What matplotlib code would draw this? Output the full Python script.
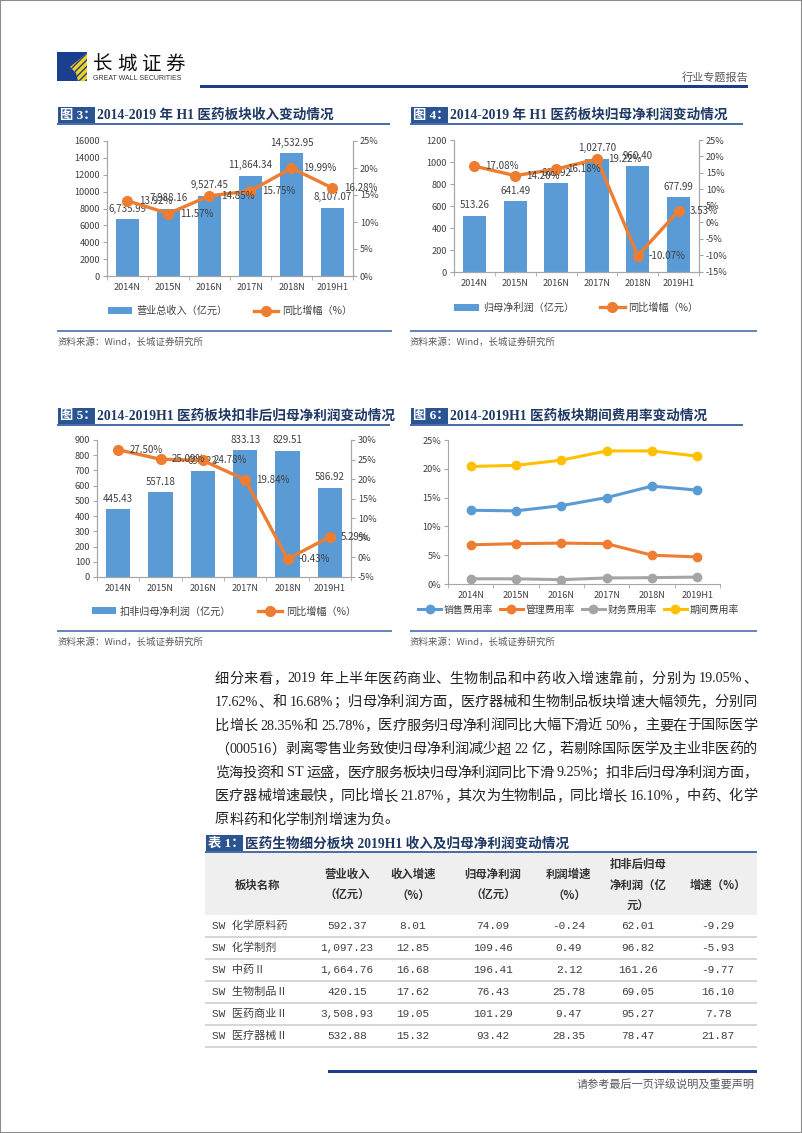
import re
import numpy as np
import matplotlib
matplotlib.use('Agg')
import matplotlib.pyplot as plt
from matplotlib.patches import Rectangle, Polygon
from matplotlib.ticker import FuncFormatter

plt.rcParams['font.family'] = ['Noto Sans CJK SC', 'DejaVu Sans']
plt.rcParams['axes.unicode_minus'] = False

# ---- data ----
years = ['2014N', '2015N', '2016N', '2017N', '2018N', '2019H1']

revenue = [6735.99, 7988.16, 9527.45, 11864.34, 14532.95, 8107.07]
revenue_yoy = [13.92, 11.57, 14.85, 15.75, 19.99, 16.28]
net_profit = [513.26, 641.49, 805.92, 1027.70, 960.40, 677.99]
net_profit_yoy = [17.08, 14.20, 16.18, 19.22, -10.07, 3.53]
ded_profit = [445.43, 557.18, 695.22, 833.13, 829.51, 586.92]
ded_profit_yoy = [27.50, 25.09, 24.78, 19.84, -0.43, 5.29]

sell_rate = [12.8, 12.7, 13.6, 15.0, 17.0, 16.3]
mgmt_rate = [6.8, 7.0, 7.1, 7.0, 5.0, 4.7]
fin_rate = [0.9, 0.9, 0.75, 1.05, 1.1, 1.2]
period_rate = [20.4, 20.6, 21.5, 23.1, 23.1, 22.2]
rate_names = ['销售费用率', '管理费用率', '财务费用率', '期间费用率']

tbl_header = ['板块名称', '营业收入\n（亿元）', '收入增速\n（%）', '归母净利润\n（亿元）',
              '利润增速\n（%）', '扣非后归母\n净利润（亿\n元）', '增速（%）']
tbl_names = ['SW 化学原料药', 'SW 化学制剂', 'SW 中药Ⅱ', 'SW 生物制品Ⅱ', 'SW 医药商业Ⅱ', 'SW 医疗器械Ⅱ']
tbl_rev = [592.37, 1097.23, 1664.76, 420.15, 3508.93, 532.88]
tbl_rev_g = [8.01, 12.85, 16.68, 17.62, 19.05, 15.32]
tbl_np = [74.09, 109.46, 196.41, 76.43, 101.29, 93.42]
tbl_np_g = [-0.24, 0.49, 2.12, 25.78, 9.47, 28.35]
tbl_ded = [62.01, 96.82, 161.26, 69.05, 95.27, 78.47]
tbl_ded_g = [-9.29, -5.93, -9.77, 16.10, 7.78, 21.87]

paragraph = [
    '细分来看，2019 年上半年医药商业、生物制品和中药收入增速靠前，分别为 19.05%、',
    '17.62%、和 16.68%；归母净利润方面，医疗器械和生物制品板块增速大幅领先，分别同',
    '比增长 28.35%和 25.78%，医疗服务归母净利润同比大幅下滑近 50%，主要在于国际医学',
    '（000516）剥离零售业务致使归母净利润减少超 22 亿，若剔除国际医学及主业非医药的',
    '览海投资和 ST 运盛，医疗服务板块归母净利润同比下滑 9.25%；扣非后归母净利润方面，',
    '医疗器械增速最快，同比增长 21.87%，其次为生物制品，同比增长 16.10%，中药、化学',
    '原料药和化学制剂增速为负。',
]

BLUE = '#5B9BD5'
ORANGE = '#ED7D31'
GRAY = '#A5A5A5'
YELLOW = '#FFC000'
NAVY = '#1F3C88'
TITLE_C = '#1F3864'
SPINE = '#A6A6A6'
TXT = '#404040'
SERIF = ['Liberation Serif', 'Noto Sans CJK SC']

W, H = 802, 1133
fig = plt.figure(figsize=(W / 100, H / 100), dpi=100)


def fx(x):
    return x / W


def fy(y):
    return 1 - y / H


def add_ax(x0, y0, x1, y1):
    return fig.add_axes([fx(x0), fy(y1), (x1 - x0) / W, (y1 - y0) / H])


def band(x0, x1, y0, y1, color, **kw):
    fig.add_artist(Rectangle((fx(x0), fy(y1)), (x1 - x0) / W, (y1 - y0) / H,
                             transform=fig.transFigure, color=color, lw=0, **kw))


def hline(x0, x1, y, thick, color):
    band(x0, x1, y - thick / 2, y + thick / 2, color)


# page frame
fig.add_artist(Rectangle((0, 0), 1, 1, transform=fig.transFigure, fill=False,
                         edgecolor='#8C8C8C', lw=1.5))

# ---- header ----
band(57, 87, 52, 81, '#1B3F8F')
fig.add_artist(Polygon([(fx(87), fy(53)), (fx(70), fy(67)), (fx(76), fy(73)), (fx(78), fy(81)),
                        (fx(87), fy(81))], closed=True, transform=fig.transFigure,
                       facecolor='#F0D020', edgecolor='#1B3F8F', lw=0, hatch='/////'))
for i, ch in enumerate('长城证券'):
    fig.text(fx(93 + i * 24), fy(64), ch, fontsize=14, va='center', ha='left', color='#111111')
fig.text(fx(93), fy(79), 'GREAT WALL SECURITIES', fontsize=5, family='Liberation Sans',
         va='center', color='#333333')
fig.text(fx(748), fy(77), '行业专题报告', fontsize=8, ha='right', va='center', color='#595959')
hline(200, 748, 86, 3, NAVY)


def chart_title(x0, x1, y_line, tag, text):
    band(x0 + 1, x0 + 38, y_line - 17, y_line, '#2B5592')
    fig.text(fx(x0 + 3), fy(y_line - 8.5), tag, fontsize=9.5, weight='bold', color='white',
             va='center', family=SERIF)
    fig.text(fx(x0 + 40), fy(y_line - 8.5), text, fontsize=9.8, weight='bold', color=TITLE_C,
             va='center', family=SERIF)
    hline(x0, x1, y_line, 1.2, '#4A6FA8')


def source(x0, x1, y):
    hline(x0, x1, y, 2, '#6A86B8')
    fig.text(fx(x0), fy(y + 11), '资料来源：Wind，长城证券研究所', fontsize=6.8, style='italic',
             color='#595959', va='center')


def style_axis(ax, right=True):
    ax.spines['top'].set_visible(False)
    for s in ['left', 'bottom', 'right']:
        ax.spines[s].set_color(SPINE)
        ax.spines[s].set_linewidth(0.8)
    if not right:
        ax.spines['right'].set_visible(False)
    ax.tick_params(axis='y', labelsize=6.6, colors=TXT, length=3, color=SPINE, pad=2)
    ax.set_xticks(range(len(years)))
    ax.set_xticklabels(years)
    ax.set_xticks(np.arange(-0.5, len(years), 1), minor=True)
    ax.tick_params(axis='x', which='major', length=0, labelsize=6.6, colors=TXT, pad=5)
    ax.tick_params(axis='x', which='minor', length=3, color=SPINE)
    ax.set_xlim(-0.5, len(years) - 0.5)


def combo(box, bars, yoy, bar_name, ylim, ystep, y2lim, leg_y):
    ax = add_ax(*box)
    x = np.arange(len(years))
    ax.bar(x, bars, width=0.57, color=BLUE, label=bar_name, zorder=2)
    ax.set_ylim(*ylim)
    ax.set_yticks(np.arange(ylim[0], ylim[1] + 1, ystep))
    style_axis(ax)
    ax2 = ax.twinx()
    ax2.plot(x, yoy, color=ORANGE, lw=2.4, marker='o', ms=7, label='同比增幅（%）')
    ax2.set_ylim(*y2lim)
    ax2.set_yticks(np.arange(y2lim[0], y2lim[1] + 1, 5))
    ax2.yaxis.set_major_formatter(FuncFormatter(lambda v, p: f'{v:.0f}%'))
    ax2.spines['top'].set_visible(False)
    for s in ['left', 'bottom', 'right']:
        ax2.spines[s].set_color(SPINE)
        ax2.spines[s].set_linewidth(0.8)
    ax2.tick_params(axis='y', labelsize=6.6, colors=TXT, length=3, color=SPINE, pad=2)
    for i, v in enumerate(bars):
        ax.annotate(f'{v:,.2f}', (i, v), xytext=(0, 4), textcoords='offset points',
                    ha='center', va='bottom', fontsize=7, color=TXT, zorder=5)
    for i, v in enumerate(yoy):
        ax2.annotate(f'{v:.2f}%', (i, v), xytext=(8, 0), textcoords='offset points',
                     ha='left', va='center', fontsize=7, color=TXT)
    h1, l1 = ax.get_legend_handles_labels()
    h2, l2 = ax2.get_legend_handles_labels()
    ax2.legend(h1 + h2, l1 + l2, loc='center', bbox_to_anchor=(0.5, leg_y), ncol=2,
               frameon=False, fontsize=7.3, handlelength=2.4, columnspacing=2.6,
               handletextpad=0.4, labelcolor=TXT)
    return ax, ax2


# ---- chart 3 ----
chart_title(57, 390, 124, '图 3：', '2014-2019 年 H1 医药板块收入变动情况')
combo((107, 141, 353, 276), revenue, revenue_yoy, '营业总收入（亿元）',
      (0, 16000), 2000, (0, 25), -0.26)
source(57, 392, 331)

# ---- chart 4 ----
chart_title(410, 743, 124, '图 4：', '2014-2019 年 H1 医药板块归母净利润变动情况')
combo((454, 140, 699, 272), net_profit, net_profit_yoy, '归母净利润（亿元）',
      (0, 1200), 200, (-15, 25), -0.27)
source(410, 757, 331)

# ---- chart 5 ----
chart_title(57, 390, 425, '图 5：', '2014-2019H1 医药板块扣非后归母净利润变动情况')
combo((97, 440, 351, 577), ded_profit, ded_profit_yoy, '扣非归母净利润（亿元）',
      (0, 900), 100, (-5, 30), -0.25)
source(57, 392, 631)

# ---- chart 6 ----
chart_title(410, 743, 425, '图 6：', '2014-2019H1 医药板块期间费用率变动情况')
ax6 = add_ax(448, 440, 720, 584)
x = np.arange(len(years))
for vals, c, name in zip([sell_rate, mgmt_rate, fin_rate, period_rate],
                         [BLUE, ORANGE, GRAY, YELLOW], rate_names):
    ax6.plot(x, vals, color=c, lw=2.2, marker='o', ms=6, label=name)
ax6.set_ylim(0, 25)
ax6.set_yticks(np.arange(0, 26, 5))
ax6.yaxis.set_major_formatter(FuncFormatter(lambda v, p: f'{v:.0f}%'))
style_axis(ax6, right=False)
ax6.legend(loc='center', bbox_to_anchor=(0.48, -0.18), ncol=4, frameon=False, fontsize=7.1,
           handlelength=2.3, columnspacing=0.7, handletextpad=0.3, labelcolor=TXT)
source(410, 757, 631)

# ---- paragraph (justified) ----
renderer = fig.canvas.get_renderer()
PFS = 10.2


def justify(line, x0, x1, y, last=False):
    toks = re.findall(r' |[0-9A-Za-z.%]+|.', line)
    items = []
    for t in toks:
        if t == ' ':
            items.append((None, PFS * 0.25 * 100 / 72))
        else:
            txt = fig.text(0, fy(y), t, fontsize=PFS, family=SERIF, va='center', ha='left',
                           color='#222222')
            items.append((txt, txt.get_window_extent(renderer).width))
    total = sum(w for _, w in items)
    gap = 0 if last else (x1 - x0 - total) / (len(items) - 1)
    xx = x0
    for txt, w in items:
        if txt is not None:
            txt.set_x(fx(xx))
        xx += w + gap


for i, line in enumerate(paragraph):
    justify(line, 215, 757, 679 + i * 23.5, last=(i == len(paragraph) - 1))

# ---- table ----
chart_title(205, 757, 852, '表 1：', '医药生物细分板块 2019H1 收入及归母净利润变动情况')
band(205, 757, 853, 915, '#EFEFEF')
col_c = [258, 347, 413, 493, 569, 638, 718]
col_sep = [322, 381, 452, 534, 603, 676]
for c, h in zip(col_c, tbl_header):
    fig.text(fx(c), fy(885), h, fontsize=8.2, weight='bold', ha='center', va='center',
             color='#333333', linespacing=1.75)
row_h = 22
body_top = 915
cols = [tbl_rev, tbl_rev_g, tbl_np, tbl_np_g, tbl_ded, tbl_ded_g]
for r, name in enumerate(tbl_names):
    yc = body_top + row_h * r + row_h / 2
    fig.text(fx(212), fy(yc), name, fontsize=8, ha='left', va='center', color=TXT,
             family=['Liberation Mono', 'Noto Sans CJK SC'])
    for c, col in enumerate(cols):
        fig.text(fx(col_c[c + 1]), fy(yc), f'{col[r]:,.2f}', fontsize=8, ha='center',
                 va='center', color=TXT, family=['Liberation Mono', 'Noto Sans CJK SC'])
    hline(205, 757, body_top + row_h * (r + 1), 1.6, '#D6D6D6')
for s in col_sep:
    band(s - 0.4, s + 0.4, body_top, body_top + row_h * len(tbl_names), '#E4E4E4')

# ---- footer ----
hline(328, 757, 1071, 3, NAVY)
fig.text(fx(755), fy(1084), '请参考最后一页评级说明及重要声明', fontsize=8, ha='right',
         va='center', color='#595959')

fig.savefig('out.png', dpi=100)
